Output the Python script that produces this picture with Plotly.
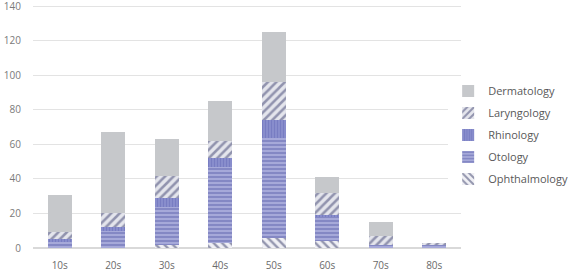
import plotly.graph_objects as go

categories = ["10s", "20s", "30s", "40s", "50s", "60s", "70s", "80s"]
ophthalmology = [0, 0, 2, 3, 6, 4, 0, 0]
otology = [4, 10, 22, 44, 58, 14, 2, 2]
rhinology = [1, 2, 5, 5, 10, 1, 0, 0]
laryngology = [4, 8, 13, 10, 22, 13, 5, 1]
dermatology = [22, 47, 21, 23, 29, 9, 8, 0]
y_ticks = [0, 20, 40, 60, 80, 100, 120, 140]

series = [
    ("Ophthalmology", ophthalmology, dict(shape="\\", fgcolor="#353a66", bgcolor="#f0f0f5", size=6, solidity=0.4)),
    ("Otology", otology, dict(shape="-", fgcolor="#5a5fab", bgcolor="#a6a9d9", size=4, solidity=0.45)),
    ("Rhinology", rhinology, dict(shape="|", fgcolor="#666bb8", bgcolor="#8a8ecd", size=3, solidity=0.4)),
    ("Laryngology", laryngology, dict(shape="/", fgcolor="#3d4270", bgcolor="#e4e5ec", size=6, solidity=0.42)),
    ("Dermatology", dermatology, dict(shape="", fgcolor="#c6c8cb", bgcolor="#c6c8cb")),
]
base_colors = {"Ophthalmology": "#f0f0f5", "Otology": "#a6a9d9", "Rhinology": "#8a8ecd",
               "Laryngology": "#e4e5ec", "Dermatology": "#c6c8cb"}

fig = go.Figure()
for rank, (name, vals, pat) in enumerate(series):
    fig.add_trace(go.Bar(
        x=categories, y=vals, name=name, legendgroup=name,
        legendrank=1000 - rank,
        marker=dict(color=base_colors[name], line=dict(width=0), pattern=pat),
    ))

fig.update_layout(
    barmode="stack",
    bargap=0.56,
    width=580, height=279,
    margin=dict(l=33, r=119, t=3, b=31, autoexpand=False),
    plot_bgcolor="white", paper_bgcolor="white",
    font=dict(family="Open Sans, Arial, sans-serif", size=10, color="#6b6b6b"),
    legend=dict(
        traceorder="grouped", tracegroupgap=3,
        x=0.97, y=0.70, xanchor="left", yanchor="top",
        font=dict(size=11, color="#595959"),
        itemwidth=30,
    ),
    xaxis=dict(showgrid=False, showline=False, ticks="outside", ticklen=8, tickcolor="white",
               tickfont=dict(size=10, color="#6b6b6b")),
    yaxis=dict(range=[0, 142], tickvals=y_ticks, showgrid=True, gridcolor="#e3e3e3",
               zeroline=True, zerolinecolor="#d9d9d9", ticks="outside", ticklen=9, tickcolor="white",
               ticklabeloverflow="allow",
               tickfont=dict(size=10, color="#7a7a7a")),
)

fig.write_html("out.html")
